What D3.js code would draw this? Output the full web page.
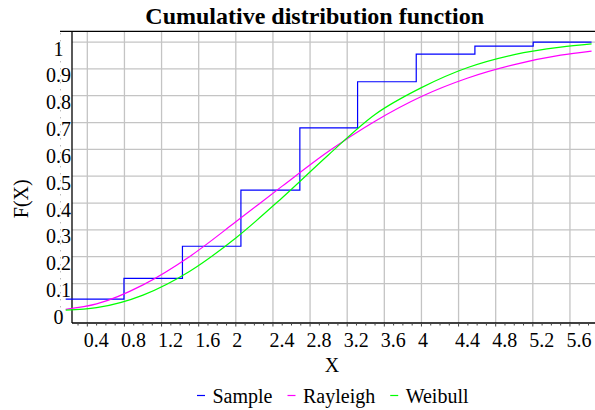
<!DOCTYPE html>
<html>
<head>
<meta charset="utf-8">
<script src="https://cdn.jsdelivr.net/npm/d3@7"></script>
<style>
  html, body { margin: 0; padding: 0; background: #fff; }
  svg { display: block; }
</style>
</head>
<body>
<script>
// ---- data ----
const xTicks = [0.4, 0.8, 1.2, 1.6, 2, 2.4, 2.8, 3.2, 3.6, 4, 4.4, 4.8, 5.2, 5.6];
const yGrid = [0.1, 0.2, 0.3, 0.4, 0.5, 0.6, 0.7, 0.8, 0.9, 1];
const yLabels = [0, 0.1, 0.2, 0.3, 0.4, 0.5, 0.6, 0.7, 0.8, 0.9, 1];

// empirical CDF (step edges and levels)
const sampleEdges = [0.167, 0.795, 1.425, 2.055, 2.69, 3.312, 3.944, 4.576, 5.204, 5.833];
const sampleLevels = [0.042, 0.119, 0.239, 0.448, 0.680, 0.852, 0.955, 0.985, 1.0, 1.0];

// fitted curves
const curveX = [0.167, 0.5, 1.0, 1.5, 2.0, 2.5, 3.0, 3.5, 4.0, 4.5, 5.0, 5.5, 5.833];
const rayleighY = [0.004, 0.024, 0.095, 0.200, 0.330, 0.463, 0.593, 0.705, 0.797, 0.866, 0.916, 0.951, 0.966];
const weibullY = [0.001, 0.010, 0.057, 0.145, 0.270, 0.420, 0.580, 0.730, 0.830, 0.905, 0.953, 0.981, 0.993];

const seriesNames = ["Sample", "Rayleigh", "Weibull"];
const seriesColors = ["#0000ff", "#ff00ff", "#00ff00"];

// ---- layout ----
const W = 595, H = 410;
const pL = 72, pR = 595, pT = 31.3, pB = 323;
const FONT = "'Liberation Serif', 'Times New Roman', Times, 'DejaVu Serif', serif";

const svg = d3.select("body").append("svg").attr("width", W).attr("height", H)
  .attr("font-family", FONT).style("font-family", FONT);

const x = d3.scaleLinear().domain([0.235, 5.87]).range([pL, pR]);
const y = d3.scaleLinear().domain([-0.047, 1.04]).range([pB, pT]);

// grid
const grid = svg.append("g").attr("stroke", "#c4c4c4").attr("stroke-width", 1.3);
grid.selectAll("line.v").data(xTicks).join("line").attr("class", "v")
  .attr("x1", d => x(d)).attr("x2", d => x(d))
  .attr("y1", pT).attr("y2", pB);
grid.selectAll("line.h").data(yGrid).join("line").attr("class", "h")
  .attr("x1", pL).attr("x2", pR)
  .attr("y1", d => y(d)).attr("y2", d => y(d));

// dotted helper line at the far left
svg.append("line")
  .attr("x1", 60.5).attr("x2", 60.5).attr("y1", pT + 2).attr("y2", pB)
  .attr("stroke", "#9a9a9a").attr("stroke-width", 1).attr("stroke-dasharray", "1,6");

// frame / axes
svg.append("line").attr("x1", 60).attr("x2", pR).attr("y1", pT).attr("y2", pT)
  .attr("stroke", "#000").attr("stroke-width", 1.3);
svg.append("line").attr("x1", pL).attr("x2", pL).attr("y1", pT).attr("y2", pB)
  .attr("stroke", "#000").attr("stroke-width", 1.3);
svg.append("line").attr("x1", pL).attr("x2", pR).attr("y1", pB).attr("y2", pB)
  .attr("stroke", "#000").attr("stroke-width", 1.3);

// minor ticks on x axis
const minor = d3.range(3, 59).map(i => i / 10);
svg.append("g").attr("stroke", "#444").attr("stroke-width", 1)
  .selectAll("line").data(minor).join("line")
  .attr("x1", d => x(d)).attr("x2", d => x(d))
  .attr("y1", pB).attr("y2", d => pB + (xTicks.some(t => Math.abs(t - d) < 1e-6) ? 3.5 : 2.5));

// tick labels
const fmt = d3.format("~g");
svg.append("g").selectAll("text").data(xTicks).join("text")
  .attr("x", d => x(d) - 3.5).attr("y", 346.5)
  .attr("font-size", 20).attr("text-anchor", "start")
  .text(d => fmt(d));
svg.append("g").selectAll("text").data(yLabels).join("text")
  .attr("x", 58.4).attr("y", d => y(d) + 13.6)
  .attr("font-size", 20).attr("text-anchor", "middle")
  .text(d => fmt(d));

// series
const stepLine = d3.line().x(d => x(d[0])).y(d => y(d[1])).curve(d3.curveStepAfter);
svg.append("path")
  .datum(sampleEdges.map((e, i) => [e, sampleLevels[i]]))
  .attr("fill", "none").attr("stroke", seriesColors[0]).attr("stroke-width", 1.2)
  .attr("d", stepLine);
const smooth = d3.line().x(d => x(d[0])).y(d => y(d[1])).curve(d3.curveMonotoneX);
svg.append("path")
  .datum(curveX.map((v, i) => [v, rayleighY[i]]))
  .attr("fill", "none").attr("stroke", seriesColors[1]).attr("stroke-width", 1.2)
  .attr("d", smooth);
svg.append("path")
  .datum(curveX.map((v, i) => [v, weibullY[i]]))
  .attr("fill", "none").attr("stroke", seriesColors[2]).attr("stroke-width", 1.2)
  .attr("d", smooth);

// titles
svg.append("text").attr("x", 314.7).attr("y", 24)
  .attr("text-anchor", "middle").attr("font-size", 24).attr("font-weight", "bold")
  .text("Cumulative distribution function");
svg.append("text").attr("x", 332).attr("y", 372.3)
  .attr("text-anchor", "middle").attr("font-size", 20).text("X");
svg.append("text").attr("transform", "translate(27.5,198.8) rotate(-90)")
  .attr("text-anchor", "middle").attr("font-size", 20).text("F(X)");

// legend
const lg = svg.append("g");
let cx = 197;
seriesNames.forEach((name, i) => {
  lg.append("line").attr("x1", cx).attr("x2", cx + 8).attr("y1", 395.5).attr("y2", 395.5)
    .attr("stroke", seriesColors[i]).attr("stroke-width", 1.2);
  const t = lg.append("text").attr("x", cx + 15.5).attr("y", 402.7)
    .attr("font-size", 20).text(name);
  cx = cx + 15.5 + t.node().getComputedTextLength() + 15;
});
</script>
</body>
</html>
